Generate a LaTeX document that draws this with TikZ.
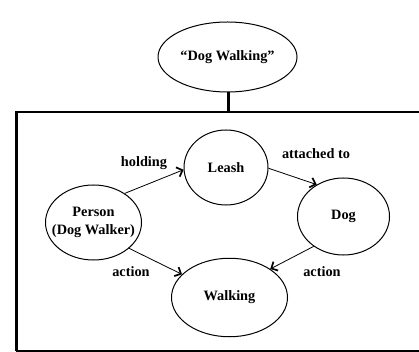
\documentclass[tikz,border=0pt]{standalone}
\usepackage{fontspec}
\setmainfont{Liberation Serif}
\usetikzlibrary{shapes.geometric,arrows.meta}
\tikzset{
  oval/.style={draw=black, ellipse, line width=1pt, inner sep=0pt},
  txt/.style={font=\fontsize{14.3}{17.7}\selectfont\bfseries, align=center, inner sep=0pt},
  rel/.style={draw=black, line width=0.8pt, -{Straight Barb[length=5pt,width=10pt,line width=1.7pt]}},
}
\begin{document}
\begin{tikzpicture}[x=1pt,y=-1pt]
\useasboundingbox (0,0) rectangle (419,352);
\clip (0,0) rectangle (419,352);
% frame
\draw[line width=2.6pt] (16.2,350.8) -- (16.2,112) -- (430,112);
\draw[line width=2pt] (16.2,351) -- (430,351);
% nodes
\node[oval, minimum width=139pt, minimum height=70pt,
      label={[txt]center:“Dog Walking”}] (top) at (227.5,57) {};
\node[oval, minimum width=84pt, minimum height=75pt,
      label={[txt]center:Leash}] (leash) at (226,167.5) {};
\node[oval, minimum width=96pt, minimum height=75pt,
      label={[txt]center:Person\\(Dog Walker)}] (person) at (93.5,222.5) {};
\node[oval, minimum width=92pt, minimum height=77pt,
      label={[txt]center:Dog}] (dog) at (343.5,216.5) {};
\node[oval, minimum width=116pt, minimum height=78.5pt,
      label={[txt]center:Walking}] (walk) at (229.5,297.5) {};
% connector to frame
\coordinate (frametop) at (228.3,112);
\draw[line width=3pt] (top.south -| frametop) -- (frametop);
% relations
\draw[rel] (person.43) -- (leash.183);
\draw[rel] (leash.-1) -- (dog.130);
\draw[rel] (person.-36) -- (walk.154);
\draw[rel] (dog.225) -- (walk.35);
% labels
\node[txt] (l1) at (144,163) {holding};
\node[txt] (l2) at (316,153.5) {attached to};
\node[txt] (l3) at (131,272) {action};
\node[txt] (l4) at (322,272) {action};
\end{tikzpicture}
\end{document}
